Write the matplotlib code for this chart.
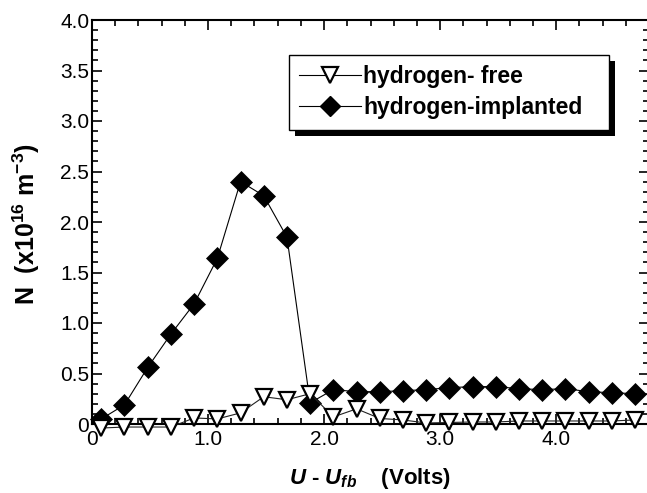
import matplotlib
matplotlib.use("Agg")
import matplotlib.pyplot as plt
from matplotlib.ticker import MultipleLocator, FixedLocator, FixedFormatter
from matplotlib.patches import Rectangle
from matplotlib.lines import Line2D

plt.rcParams['font.family'] = ['Liberation Sans', 'DejaVu Sans']
plt.rcParams['mathtext.fontset'] = 'custom'
plt.rcParams['mathtext.rm'] = 'Liberation Sans:bold'
plt.rcParams['mathtext.it'] = 'Liberation Sans:italic:bold'
plt.rcParams['mathtext.bf'] = 'Liberation Sans:bold'

# ---- data ----
x_free = [0.08, 0.28, 0.48, 0.68, 0.88, 1.08, 1.28, 1.48, 1.68, 1.88, 2.08, 2.28,
          2.48, 2.68, 2.88, 3.08, 3.28, 3.48, 3.68, 3.88, 4.08, 4.28, 4.48, 4.68]
y_free = [-0.04, -0.03, -0.03, -0.03, 0.06, 0.05, 0.11, 0.27, 0.24, 0.30, 0.07, 0.15,
          0.055, 0.04, 0.01, 0.015, 0.02, 0.02, 0.03, 0.03, 0.03, 0.03, 0.03, 0.04]

x_impl = [0.08, 0.28, 0.48, 0.68, 0.88, 1.08, 1.28, 1.48, 1.68, 1.88, 2.08, 2.28,
          2.48, 2.68, 2.88, 3.08, 3.28, 3.48, 3.68, 3.88, 4.08, 4.28, 4.48, 4.68]
y_impl = [0.05, 0.19, 0.56, 0.89, 1.19, 1.64, 2.40, 2.26, 1.85, 0.21, 0.34, 0.32,
          0.32, 0.33, 0.34, 0.36, 0.37, 0.37, 0.35, 0.34, 0.35, 0.32, 0.31, 0.30]

labels = ["hydrogen- free", "hydrogen-implanted"]
xtick_vals = [0, 1.0, 2.0, 3.0, 4.0]
xtick_labels = ["0", "1.0", "2.0", "3.0", "4.0"]
ytick_vals = [0, 0.5, 1.0, 1.5, 2.0, 2.5, 3.0, 3.5, 4.0]
ytick_labels = ["0", "0.5", "1.0", "1.5", "2.0", "2.5", "3.0", "3.5", "4.0"]

W, H = 647, 493
fig = plt.figure(figsize=(W / 100, H / 100), dpi=100)
ax = fig.add_axes([92 / W, (H - 424) / H, 557 / W, 404 / H])

ax.plot(x_impl, y_impl, color='black', lw=0.8, marker='D', ms=11.5,
        mfc='black', mec='black', mew=0.5, zorder=3, clip_on=False,
        label=labels[1])
ax.plot(x_free, y_free, color='#222222', lw=0.8, marker='v', ms=12,
        mfc='white', mec='black', mew=1.6, zorder=4, clip_on=False,
        label=labels[0])

ax.set_xlim(0, 4.8)
ax.set_ylim(0, 4.0)

ax.xaxis.set_major_locator(FixedLocator(xtick_vals))
ax.xaxis.set_major_formatter(FixedFormatter(xtick_labels))
ax.xaxis.set_minor_locator(MultipleLocator(0.2))
ax.yaxis.set_major_locator(FixedLocator(ytick_vals))
ax.yaxis.set_major_formatter(FixedFormatter(ytick_labels))
ax.yaxis.set_minor_locator(MultipleLocator(0.1))

ax.tick_params(which='both', direction='in', top=True, right=True,
               width=1.2, labelsize=15, colors='black')
ax.tick_params(which='major', length=7)
ax.tick_params(which='minor', length=4)
ax.tick_params(axis='x', pad=4)
ax.tick_params(axis='y', pad=2)
for s in ax.spines.values():
    s.set_linewidth(1.5)

ax.set_ylabel(r"N  (x10$^{16}$ m$^{-3}$)", fontsize=18, fontweight='bold')
ax.yaxis.set_label_coords(-(92 - 42) / 557, (424 - 224) / 404)
ax.set_xlabel(r"$U$ - $U_{fb}$    (Volts)", fontsize=16, fontweight='bold')
ax.xaxis.set_label_coords((370 - 92) / 557, -(466 - 424) / 404)

handles = [
    Line2D([], [], color='black', lw=0.8, marker='v', ms=12, mfc='white',
           mec='black', mew=1.6),
    Line2D([], [], color='black', lw=0.8, marker='D', ms=10.5, mfc='black',
           mec='black'),
]
leg = ax.legend(handles, labels, loc='upper left',
                bbox_to_anchor=((289 - 92) / 557, (424 - 55) / 404 - 0.1,
                                (609 - 289) / 557, 0.1),
                mode='expand', borderaxespad=0, frameon=True, fancybox=False,
                prop={'weight': 'bold', 'size': 16.5}, handlelength=2.7,
                handletextpad=0.1, labelspacing=0.35, borderpad=0.45,
                framealpha=1)
leg.get_frame().set_edgecolor('black')
leg.get_frame().set_linewidth(1.0)
leg.set_zorder(6)

fig.canvas.draw()
bb = leg.get_frame().get_window_extent(fig.canvas.get_renderer())
shadow = Rectangle((bb.x0 + 6, bb.y0 - 6), bb.width, bb.height,
                   transform=None, facecolor='black', edgecolor='none',
                   zorder=5.5)
ax.add_artist(shadow)

fig.savefig("out.png", dpi=100)
